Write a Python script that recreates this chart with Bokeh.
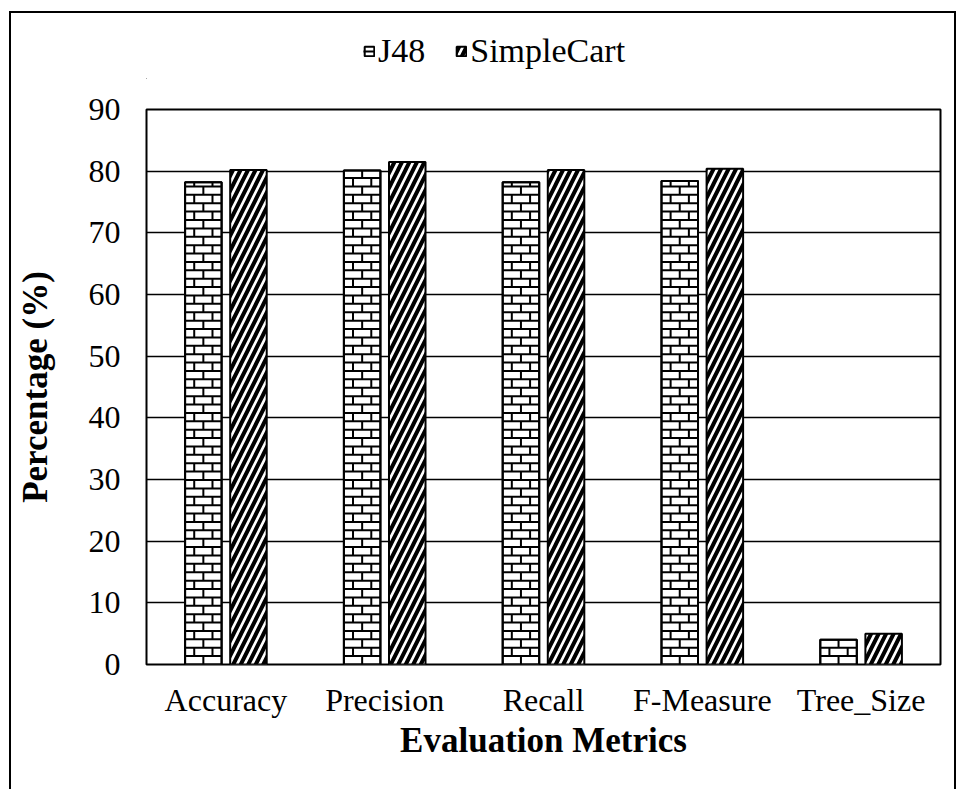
from bokeh.plotting import figure
from bokeh.layouts import column
from bokeh.models import ColumnDataSource, Range1d, FixedTicker, Legend, LegendItem
from bokeh.embed import file_html
from bokeh.resources import INLINE

# Evaluation metrics for the two decision-tree classifiers
metrics = ["Accuracy", "Precision", "Recall", "F-Measure", "Tree_Size"]
j48 = [78.2, 80.1, 78.2, 78.4, 4.0]
simple_cart = [80.2, 81.5, 80.2, 80.4, 5.0]
y_ticks = [0, 10, 20, 30, 40, 50, 60, 70, 80, 90]

FONT = "Liberation Serif"
BAR_W = 0.23        # bar width, in category units
OFFSET = 0.142      # half distance between the paired bars
ROW = 1.36          # brick course height, in percentage units

J48_STYLE = dict(fill_color="white", line_color="black", line_width=2)
CART_STYLE = dict(fill_color="white", line_color="black", line_width=2,
                  hatch_pattern="right_diagonal_line", hatch_color="black",
                  hatch_scale=15, hatch_weight=4)
BRICK_STYLE = dict(line_color="black", line_width=2)

# category positions on a numeric x scale
pos = list(range(1, len(metrics) + 1))
src = ColumnDataSource(dict(
    x_j48=[x - OFFSET for x in pos], x_cart=[x + OFFSET for x in pos],
    j48=j48, cart=simple_cart))

# brick-wall courses drawn inside each J48 bar
bx0, by0, bx1, by1 = [], [], [], []
for x, top in zip(pos, j48):
    xc = x - OFFSET
    left, right = xc - BAR_W / 2, xc + BAR_W / 2
    k = 0
    while k * ROW < top:
        y0, y1 = k * ROW, min((k + 1) * ROW, top)
        if k > 0:
            bx0.append(left); bx1.append(right); by0.append(y0); by1.append(y0)
        joints = [xc] if k % 2 == 0 else [xc - BAR_W / 4, xc + BAR_W / 4]
        for jx in joints:
            bx0.append(jx); bx1.append(jx); by0.append(y0); by1.append(y1)
        k += 1
bricks = ColumnDataSource(dict(x0=bx0, y0=by0, x1=bx1, y1=by1))

# ---- main chart ----
p = figure(
    x_range=Range1d(0.5, len(metrics) + 0.5),
    y_range=Range1d(0, 90),
    width=943, height=710,
    output_backend="svg", toolbar_location=None,
    min_border_left=135, min_border_right=14,
    min_border_top=30, min_border_bottom=125,
    outline_line_color="black", outline_line_width=2,
    background_fill_color="white", border_fill_color="white",
)

p.vbar(x="x_j48", top="j48", width=BAR_W, source=src, **J48_STYLE)
p.segment(x0="x0", y0="y0", x1="x1", y1="y1", source=bricks, **BRICK_STYLE)
p.vbar(x="x_j48", top="j48", width=BAR_W, source=src,
       fill_color=None, line_color="black", line_width=2)
p.vbar(x="x_cart", top="cart", width=BAR_W, source=src, **CART_STYLE)

p.xaxis.ticker = FixedTicker(ticks=pos)
p.xaxis.major_label_overrides = {x: m for x, m in zip(pos, metrics)}
p.yaxis.ticker = FixedTicker(ticks=y_ticks)
p.yaxis.axis_label = "Percentage (%)"
p.xaxis.axis_label = "Evaluation Metrics"
for ax in (p.xaxis[0], p.yaxis[0]):
    ax.axis_line_color = None
    ax.major_tick_line_color = None
    ax.minor_tick_line_color = None
    ax.major_tick_out = 0
    ax.major_tick_in = 0
    ax.major_label_text_font = FONT
    ax.major_label_text_font_size = "32px"
    ax.major_label_text_color = "black"
    ax.axis_label_text_font = FONT
    ax.axis_label_text_font_size = "35px"
    ax.axis_label_text_font_style = "bold"
    ax.axis_label_text_color = "black"
p.yaxis.major_label_standoff = 26
p.yaxis.axis_label_standoff = 31
p.xaxis.major_label_standoff = 17
p.xaxis.axis_label_standoff = 0

p.xgrid.grid_line_color = None
p.ygrid.grid_line_color = "black"
p.ygrid.grid_line_width = 1.7

# ---- legend strip above the chart ----
# the key glyphs sit far outside the strip's visible range; only their legend swatches show
key = figure(width=943, height=66, output_backend="svg", toolbar_location=None,
             x_axis_type=None, y_axis_type=None, x_range=Range1d(0, 1), y_range=Range1d(0, 1),
             min_border=0, outline_line_color=None,
             background_fill_color="white", border_fill_color="white")
k_j48 = key.vbar(x=[-5], bottom=[-6], top=[-5], width=BAR_W, **J48_STYLE)
k_brick = key.segment(x0=[-5], y0=[-5], x1=[-5], y1=[-5], **BRICK_STYLE)
k_cart = key.vbar(x=[-5], bottom=[-6], top=[-5], width=BAR_W, **CART_STYLE)
key.add_layout(Legend(
    items=[LegendItem(label="J48", renderers=[k_j48, k_brick]),
           LegendItem(label="SimpleCart", renderers=[k_cart])],
    location=(217, 9), orientation="horizontal",
    glyph_width=12, glyph_height=12,
    label_text_font=FONT, label_text_font_size="34px", label_text_color="black",
    label_standoff=3, spacing=30, padding=0, margin=0,
    border_line_color=None, background_fill_alpha=0), "center")

page = column(key, p, spacing=0,
              styles={"margin-left": "9px", "margin-top": "11px",
                      "border-left": "2px solid black", "border-top": "2px solid black",
                      "border-right": "2px solid black"})

open("out.html", "w").write(file_html(page, INLINE))
